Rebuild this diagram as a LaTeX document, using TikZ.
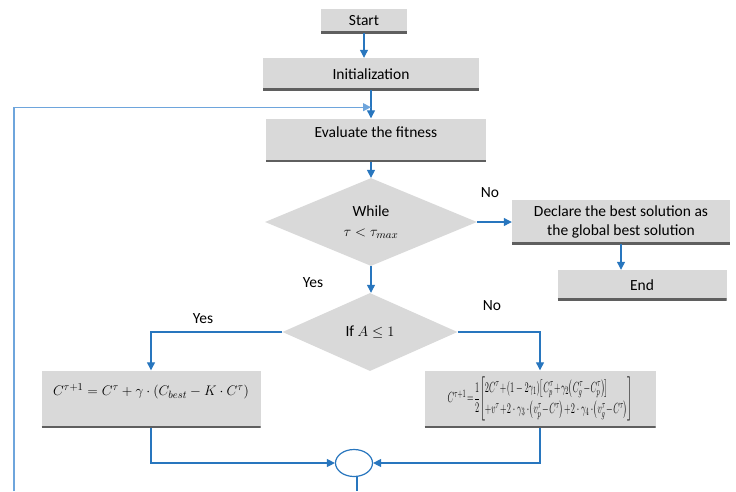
\documentclass[tikz,border=0pt]{standalone}
\usepackage{fontspec}
\setmainfont{Carlito}
\usepackage{amsmath}
\usepackage{graphicx}
\usetikzlibrary{shapes.geometric}
\usetikzlibrary{positioning}
\usetikzlibrary{arrows.meta}
\definecolor{boxgray}{RGB}{217,217,217}
\definecolor{edgegray}{RGB}{95,95,95}
\definecolor{flowblue}{RGB}{40,118,190}
\definecolor{backblue}{RGB}{110,165,220}
\tikzset{
    stepbox/.style = {fill=boxgray, inner sep=0pt, align=center, font=\fontsize{15.5}{19}\selectfont,
        path picture={\draw[line width=4pt,edgegray] (path picture bounding box.south west) -- (path picture bounding box.south east);}},
    decision/.style = {diamond, fill=boxgray, inner sep=0pt, align=center, font=\fontsize{15.5}{19}\selectfont},
    joinnode/.style = {ellipse, draw=flowblue, line width=1.2pt, fill=white, minimum width=37pt, minimum height=27pt, inner sep=0pt},
    answer/.style = {font=\fontsize{15.5}{19}\selectfont},
    edgeb/.style = {-{Triangle[length=8pt,width=8pt]},line width=1.2pt,flowblue},
    edgen/.style = {-,line width=1.2pt,flowblue},
    edgebk/.style = {-{Triangle[length=8pt,width=8pt]},line width=1.2pt,backblue} % back
}

\begin{document}
\begin{tikzpicture}[x=1pt,y=-1pt]
\useasboundingbox (0,0) rectangle (736,491);
\node[stepbox, minimum width=86pt, minimum height=24pt] (S) at (364,21) {Start};
\node[stepbox, minimum width=216pt, minimum height=32pt] (I) at (371,74) {Initialization};
\node[stepbox, minimum width=220pt, minimum height=43pt, text height=19pt, text depth=24pt] (E) at (376,140) {Evaluate the fitness};
\node[decision, minimum width=212pt, minimum height=83pt] (W) at (371,222) {While\\[1pt]$\tau<\tau_{max}$};
\node[stepbox, minimum width=218pt, minimum height=44pt] (D) at (621,222) {Declare the best solution as\\the global best solution};
\node[stepbox, minimum width=169pt, minimum height=30pt] (N) at (642,285) {End};
\node[decision, minimum width=175pt, minimum height=78pt] (F) at (370,332) {If $A\le 1$};
\node[stepbox, minimum width=219pt, minimum height=57pt, text height=25pt, text depth=32pt] (L) at (151,399)
  {\resizebox{196pt}{!}{$C^{\tau+1}=C^{\tau}+\gamma\cdot\left(C_{best}-K\cdot C^{\tau}\right)$}};
\node[stepbox, minimum width=231pt, minimum height=57pt] (R) at (540,399)
  {\resizebox*{185pt}{44pt}{$C^{\tau+1}\!=\!\dfrac{1}{2}\!\left[\begin{array}{@{}l@{}}2C^{\tau}\!+\!(1-2\gamma_1)\!\left[C_p^{\tau}\!+\!\gamma_2\!\left(C_g^{\tau}\!-\!C_p^{\tau}\right)\right]\\[2pt]
   +v^{\tau}\!+\!2\cdot\gamma_3\cdot\!\left(v_p^{\tau}\!-\!C^{\tau}\right)\!+\!2\cdot\gamma_4\cdot\!\left(v_g^{\tau}\!-\!C^{\tau}\right)\end{array}\right]$}};
\node[joinnode] (J) at (354,463) {};
\node[answer] (no1) at (490,193) {No};
\node[answer] (yes1) at (313,283) {Yes};
\node[answer] (yes2) at (203,319) {Yes};
\node[answer] (no2) at (492,306) {No};
\coordinate (merge) at ([yshift=-17pt]I.south);
\coordinate (back) at (14,491);
\coordinate (out) at (357,491);
\draw[edgeb] (S) -- (S |- I.north);
\draw[edgeb] (I) -- (I |- E.north);
\draw[edgebk] (back) |- (merge);
\draw[edgeb] (W.north |- E.south) -- (W.north);
\draw[edgeb] (W.east) -- (D.west);
\draw[edgeb] (D.south) -- (D.south |- N.north);
\draw[edgeb] (W.south) -- (W.south |- F.north);
\draw[edgeb] (F.west) -| (L.north);
\draw[edgeb] (F.east) -| (R.north);
\draw[edgeb] (L.south) |- (J.west);
\draw[edgeb] (R.south) |- (J.east);
\draw[edgen] (J.south -| out) -- (out);
\end{tikzpicture}
\end{document}
